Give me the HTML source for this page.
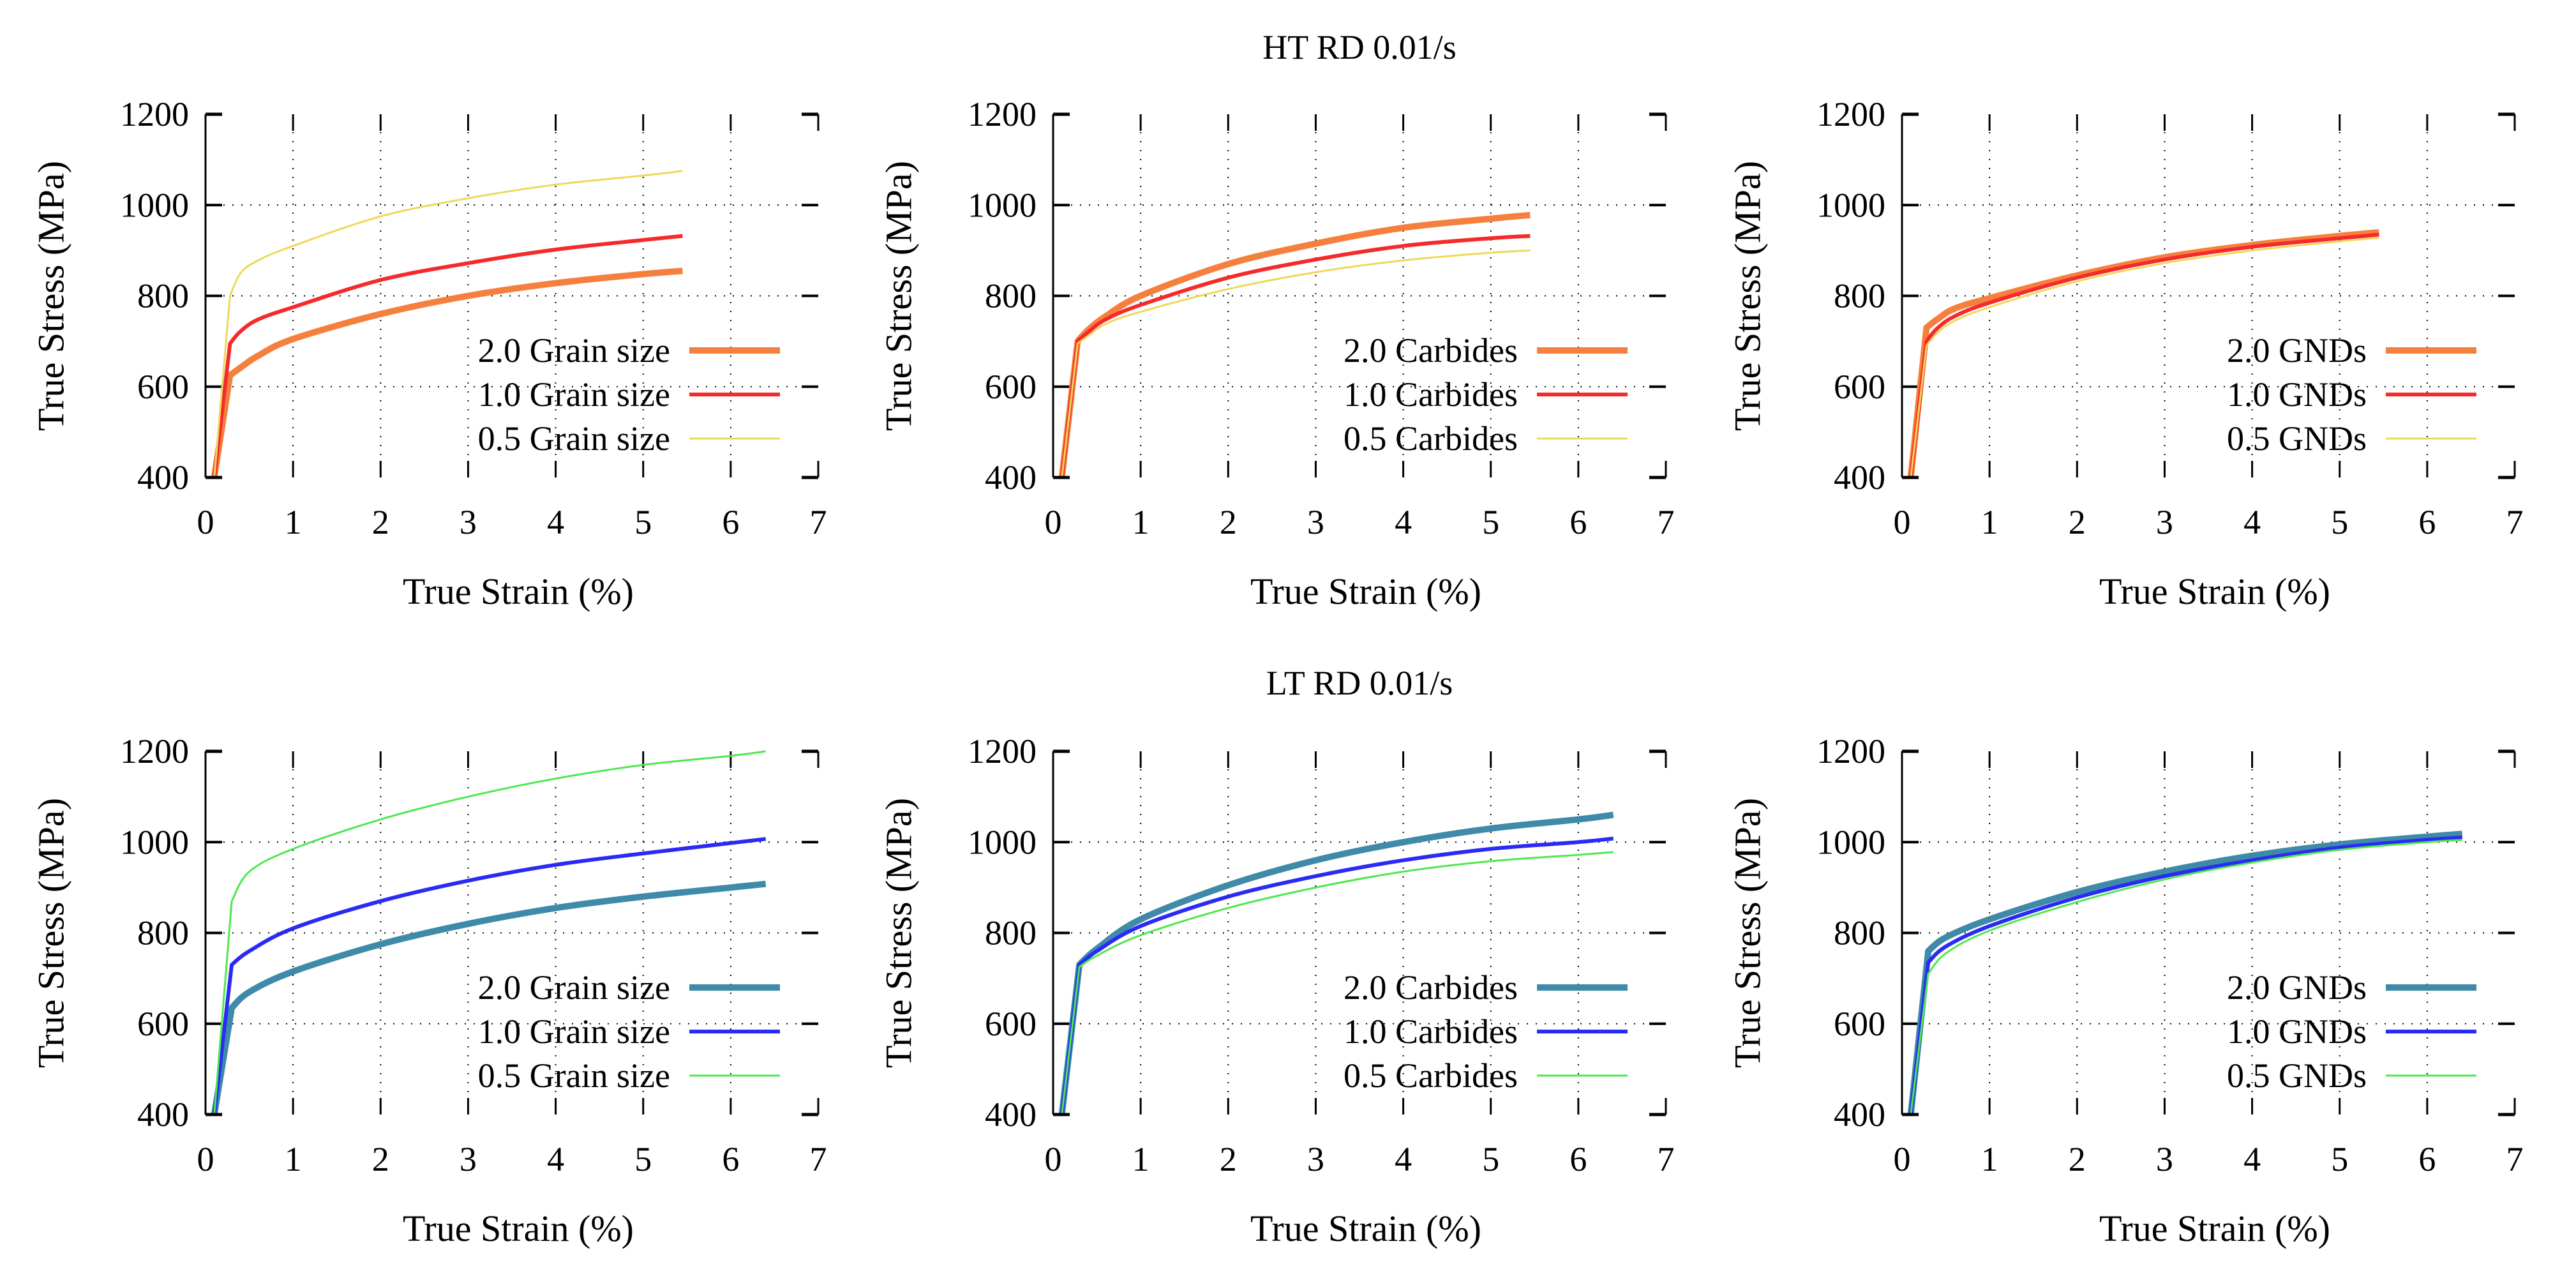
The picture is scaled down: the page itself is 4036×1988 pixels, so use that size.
<!DOCTYPE html>
<html><head><meta charset="utf-8"><style>
html,body{margin:0;padding:0;background:#fff;}
svg{display:block;font-family:"Liberation Serif",serif;}
</style></head><body>
<svg id="c" width="4036" height="1988" viewBox="0 0 4036 1988" xmlns="http://www.w3.org/2000/svg">
<text x="2130" y="92" font-size="54" text-anchor="middle">HT RD 0.01/s</text>
<text x="2130" y="1088" font-size="54" text-anchor="middle">LT RD 0.01/s</text>
</svg>
<script>
const xTicks=[0,1,2,3,4,5,6,7];
const yTicks=[400,600,800,1000,1200];
const htX=[0.1,0.28,0.4,0.6,1,2,3,4,5,5.45];
const ltX=[0.1,0.3,0.5,1,2,3,4,5,6,6.4];
const htGrain20=[400,625,642,668,705,760,800,828,848,855];
const htGrain10=[400,695,722,748,775,835,872,902,923,932];
const htGrain05=[400,800,850,878,910,975,1015,1045,1065,1075];
const htCarb20=[400,700,725,755,800,870,915,950,970,978];
const htCarb10=[400,700,720,748,780,840,880,910,927,932];
const htCarb05=[400,695,712,738,765,815,852,878,895,900];
const htGnd20=[400,730,748,772,795,845,885,912,932,940];
const htGnd10=[400,700,728,755,785,840,880,908,927,935];
const htGnd05=[400,690,718,745,775,832,872,900,920,928];
const ltGrain20=[400,635,670,715,775,820,855,880,900,908];
const ltGrain10=[400,730,760,810,870,915,950,975,998,1007];
const ltGrain05=[400,870,935,985,1050,1100,1140,1170,1190,1200];
const ltCarb20=[400,730,765,830,905,960,1000,1030,1050,1060];
const ltCarb10=[400,730,760,815,880,925,960,985,1000,1008];
const ltCarb05=[400,725,750,795,855,900,935,958,972,978];
const ltGnd20=[400,760,790,830,890,935,970,995,1012,1018];
const ltGnd10=[400,735,770,815,878,925,960,988,1005,1010];
const ltGnd05=[400,710,755,805,868,918,955,983,1000,1005];
const HTC=['#f5803e','#f52a2a','#efd85a'];
const LTC=['#3e8aa8','#2a2af5','#4de84d'];
const W=[10,6,3];
const labels=['2.0','1.0','0.5'];
const panels=[
 {n:'ht-grain',x0:322,y0:179,xs:htX,s:[htGrain20,htGrain10,htGrain05],c:HTC,t:'Grain size'},
 {n:'ht-carbides',x0:1650,y0:179,xs:htX,s:[htCarb20,htCarb10,htCarb05],c:HTC,t:'Carbides'},
 {n:'ht-gnds',x0:2980,y0:179,xs:htX,s:[htGnd20,htGnd10,htGnd05],c:HTC,t:'GNDs'},
 {n:'lt-grain',x0:322,y0:1177,xs:ltX,s:[ltGrain20,ltGrain10,ltGrain05],c:LTC,t:'Grain size'},
 {n:'lt-carbides',x0:1650,y0:1177,xs:ltX,s:[ltCarb20,ltCarb10,ltCarb05],c:LTC,t:'Carbides'},
 {n:'lt-gnds',x0:2980,y0:1177,xs:ltX,s:[ltGnd20,ltGnd10,ltGnd05],c:LTC,t:'GNDs'}
];
const NS='http://www.w3.org/2000/svg';
const svg=document.getElementById('c');
function mk(tag,attrs,parent){const e=document.createElementNS(NS,tag);for(const k in attrs)e.setAttribute(k,attrs[k]);(parent||svg).appendChild(e);return e;}
function smooth(pts){
 let d='M'+pts[0][0].toFixed(1)+','+pts[0][1].toFixed(1);
 d+=' L'+pts[1][0].toFixed(1)+','+pts[1][1].toFixed(1);
 for(let i=1;i<pts.length-1;i++){
  const p0=pts[Math.max(1,i-1)],p1=pts[i],p2=pts[i+1],p3=pts[Math.min(pts.length-1,i+2)];
  const c1=[p1[0]+(p2[0]-p0[0])/6,p1[1]+(p2[1]-p0[1])/6];
  const c2=[p2[0]-(p3[0]-p1[0])/6,p2[1]-(p3[1]-p1[1])/6];
  d+=' C'+c1.map(v=>v.toFixed(1))+' '+c2.map(v=>v.toFixed(1))+' '+p2.map(v=>v.toFixed(1));
 }
 return d;
}
const PW=960,PH=569;
panels.forEach(p=>{
 const g=mk('g',{});
 
 
 const sx=v=>p.x0+v/7*PW, sy=v=>p.y0+PH-(v-400)/800*PH;
 xTicks.forEach(t=>{
  const x=sx(t);
  if(t>0&&t<7){const gl=mk('line',{x1:x,y1:p.y0,x2:x,y2:p.y0+PH,stroke:'#000','stroke-width':2,'stroke-dasharray':'2 12'},g);
   
   mk('line',{x1:x,y1:p.y0+PH,x2:x,y2:p.y0+PH-26,stroke:'#000','stroke-width':3},g);
   mk('line',{x1:x,y1:p.y0,x2:x,y2:p.y0+26,stroke:'#000','stroke-width':3},g);}
  const tl=mk('text',{x:x,y:p.y0+PH+88,'font-size':54,'text-anchor':'middle'},g);tl.textContent=t;
  
 });
 yTicks.forEach(t=>{
  const y=sy(t);
  if(t>400&&t<1200){const gl=mk('line',{x1:p.x0,y1:y,x2:p.x0+PW,y2:y,stroke:'#000','stroke-width':2,'stroke-dasharray':'2 12'},g);
   }
  mk('line',{x1:p.x0,y1:y,x2:p.x0+26,y2:y,stroke:'#000','stroke-width':4},g);
  mk('line',{x1:p.x0+PW,y1:y,x2:p.x0+PW-26,y2:y,stroke:'#000','stroke-width':4},g);
  const tl=mk('text',{x:p.x0-26,y:y+18,'font-size':54,'text-anchor':'end'},g);tl.textContent=t;
  
 });
 p.s.forEach((arr,i)=>{
  const pts=arr.map((v,j)=>[sx(p.xs[j]),sy(v)]);
  const pa=mk('path',{d:smooth(pts),fill:'none',stroke:p.c[i],'stroke-width':W[i],'stroke-linejoin':'round'},g);
  
  
  const ly=p.y0+370+i*69;
  const lt=mk('text',{x:p.x0+728,y:ly+18,'font-size':54,'text-anchor':'end'},g);lt.textContent=labels[i]+' '+p.t;
  
  const ll=mk('line',{x1:p.x0+758,y1:ly,x2:p.x0+900,y2:ly,stroke:p.c[i],'stroke-width':W[i]},g);
  
 });
 mk('line',{x1:p.x0,y1:p.y0,x2:p.x0,y2:p.y0+PH,stroke:'#000','stroke-width':3},g);
 [[p.x0,p.y0+PH,p.x0+26,p.y0+PH],[p.x0,p.y0,p.x0+26,p.y0],[p.x0+PW,p.y0,p.x0+PW-26,p.y0],[p.x0+PW,p.y0+PH,p.x0+PW-26,p.y0+PH]].forEach(a=>mk('line',{x1:a[0],y1:a[1],x2:a[2],y2:a[3],stroke:'#000','stroke-width':5},g));
 mk('line',{x1:p.x0+PW,y1:p.y0,x2:p.x0+PW,y2:p.y0+26,stroke:'#000','stroke-width':3},g);
 mk('line',{x1:p.x0+PW,y1:p.y0+PH,x2:p.x0+PW,y2:p.y0+PH-26,stroke:'#000','stroke-width':3},g);
 const xl=mk('text',{x:p.x0+PW/2+10,y:p.y0+PH+198,'font-size':58,'text-anchor':'middle'},g);xl.textContent='True Strain (%)';
 
 const cy=p.y0+PH/2;
 const yl=mk('text',{x:p.x0-242,y:cy,'font-size':58,'text-anchor':'middle',transform:'rotate(-90 '+(p.x0-242)+' '+cy+')','dominant-baseline':'central'},g);yl.textContent='True Stress (MPa)';
 
});
</script>
</body></html>
